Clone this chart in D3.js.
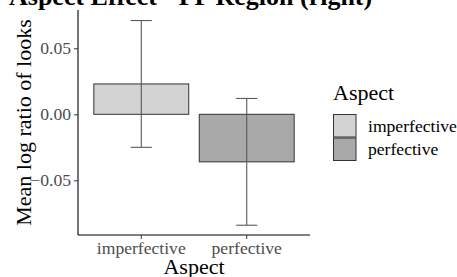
<!DOCTYPE html>
<html lang="en">
<head>
  <meta charset="UTF-8" />
  <title>Aspect Effect - PP Region (right)</title>
  <script src="https://d3js.org/d3.v7.min.js"></script>
  <style>
    body { margin: 0; background: #fff; }
    svg { display: block; font-family: 'Liberation Serif', 'Times New Roman', serif; }
  </style>
</head>
<body>
<svg width="457" height="277"></svg>

<script>
// data
const aspects = ["imperfective", "perfective"];
const means = [0.023, -0.036];
const lower = [-0.025, -0.084];
const upper = [0.071, 0.012];
const fills = ["#d3d3d3", "#a9a9a9"];
const yTicks = [-0.05, 0, 0.05];

const svg = d3.select("svg");
const mLeft = 78, mRight = 310, mTop = 10, mBottom = 235;

const x = d3.scaleBand().domain(aspects).range([mLeft, mRight])
  .paddingInner(0.1).paddingOuter(0.15);
const y = d3.scaleLinear().domain([-0.0914, 0.079]).range([mBottom, mTop]);
const color = d3.scaleOrdinal().domain(aspects).range(fills);

const rows = aspects.map((a, i) => ({ aspect: a, mean: means[i], lo: lower[i], hi: upper[i] }));

// title (partly cut off at top, as in the reference)
svg.append("text")
  .attr("x", 9).attr("y", 5)
  .attr("font-size", 26).attr("font-weight", "bold")
  .text("Aspect Effect - PP Region (right)");

// bars
svg.selectAll("rect.bar")
  .data(rows)
  .enter()
  .append("rect")
  .attr("class", "bar")
  .attr("x", d => x(d.aspect))
  .attr("width", x.bandwidth())
  .attr("y", d => y(Math.max(0, d.mean)))
  .attr("height", d => Math.abs(y(d.mean) - y(0)))
  .attr("fill", d => color(d.aspect))
  .attr("stroke", "#333")
  .attr("stroke-width", 1);

// error bars
const capW = x.step() * 0.2;
const eb = svg.selectAll("g.err").data(rows).enter().append("g")
  .attr("class", "err")
  .attr("stroke", "#595959")
  .attr("stroke-width", 1.1);
eb.append("line")
  .attr("x1", d => x(d.aspect) + x.bandwidth() / 2)
  .attr("x2", d => x(d.aspect) + x.bandwidth() / 2)
  .attr("y1", d => y(d.lo)).attr("y2", d => y(d.hi));
["lo", "hi"].forEach(k => {
  eb.append("line")
    .attr("x1", d => x(d.aspect) + x.bandwidth() / 2 - capW / 2)
    .attr("x2", d => x(d.aspect) + x.bandwidth() / 2 + capW / 2)
    .attr("y1", d => y(d[k])).attr("y2", d => y(d[k]));
});

// axes
const yAxis = svg.append("g")
  .attr("transform", `translate(${mLeft},0)`)
  .call(d3.axisLeft(y).tickValues(yTicks).tickFormat(d3.format(".2f")).tickSize(4).tickPadding(3).tickSizeOuter(0));
const xAxis = svg.append("g")
  .attr("transform", `translate(0,${mBottom})`)
  .call(d3.axisBottom(x).tickSize(4).tickPadding(3).tickSizeOuter(0));

[yAxis, xAxis].forEach(g => {
  g.select(".domain").attr("stroke", "#000").attr("stroke-width", 1.1);
  g.selectAll(".tick line").attr("stroke", "#333");
  g.selectAll(".tick text")
    .attr("fill", "#4d4d4d")
    .attr("font-size", 17.6)
    .attr("font-family", "'Liberation Serif', serif");
});
yAxis.select(".domain").attr("d", `M0,${mTop}V${mBottom}`);
xAxis.select(".domain").attr("d", `M${mLeft},0H${mRight}`);

// axis titles
svg.append("text")
  .attr("x", (mLeft + mRight) / 2).attr("y", 273.5)
  .attr("text-anchor", "middle").attr("font-size", 22)
  .text("Aspect");
svg.append("text")
  .attr("transform", `translate(30.5,${(mTop + mBottom) / 2}) rotate(-90)`)
  .attr("text-anchor", "middle").attr("font-size", 22)
  .text("Mean log ratio of looks");

// legend
const legend = svg.append("g").attr("transform", "translate(333,0)");
legend.append("text").attr("x", 0).attr("y", 100).attr("font-size", 22).text("Aspect");
const keys = legend.selectAll("g.key").data(aspects).enter().append("g")
  .attr("class", "key")
  .attr("transform", (d, i) => `translate(0,${114 + i * 23.5})`);
keys.append("rect")
  .attr("x", 0.5).attr("y", 0.5)
  .attr("width", 22.5).attr("height", 22.5)
  .attr("fill", d => color(d))
  .attr("stroke", "#333").attr("stroke-width", 1);
keys.append("text")
  .attr("x", 35).attr("y", 17.5)
  .attr("font-size", 17.6)
  .text(d => d);
</script>
</body>
</html>
